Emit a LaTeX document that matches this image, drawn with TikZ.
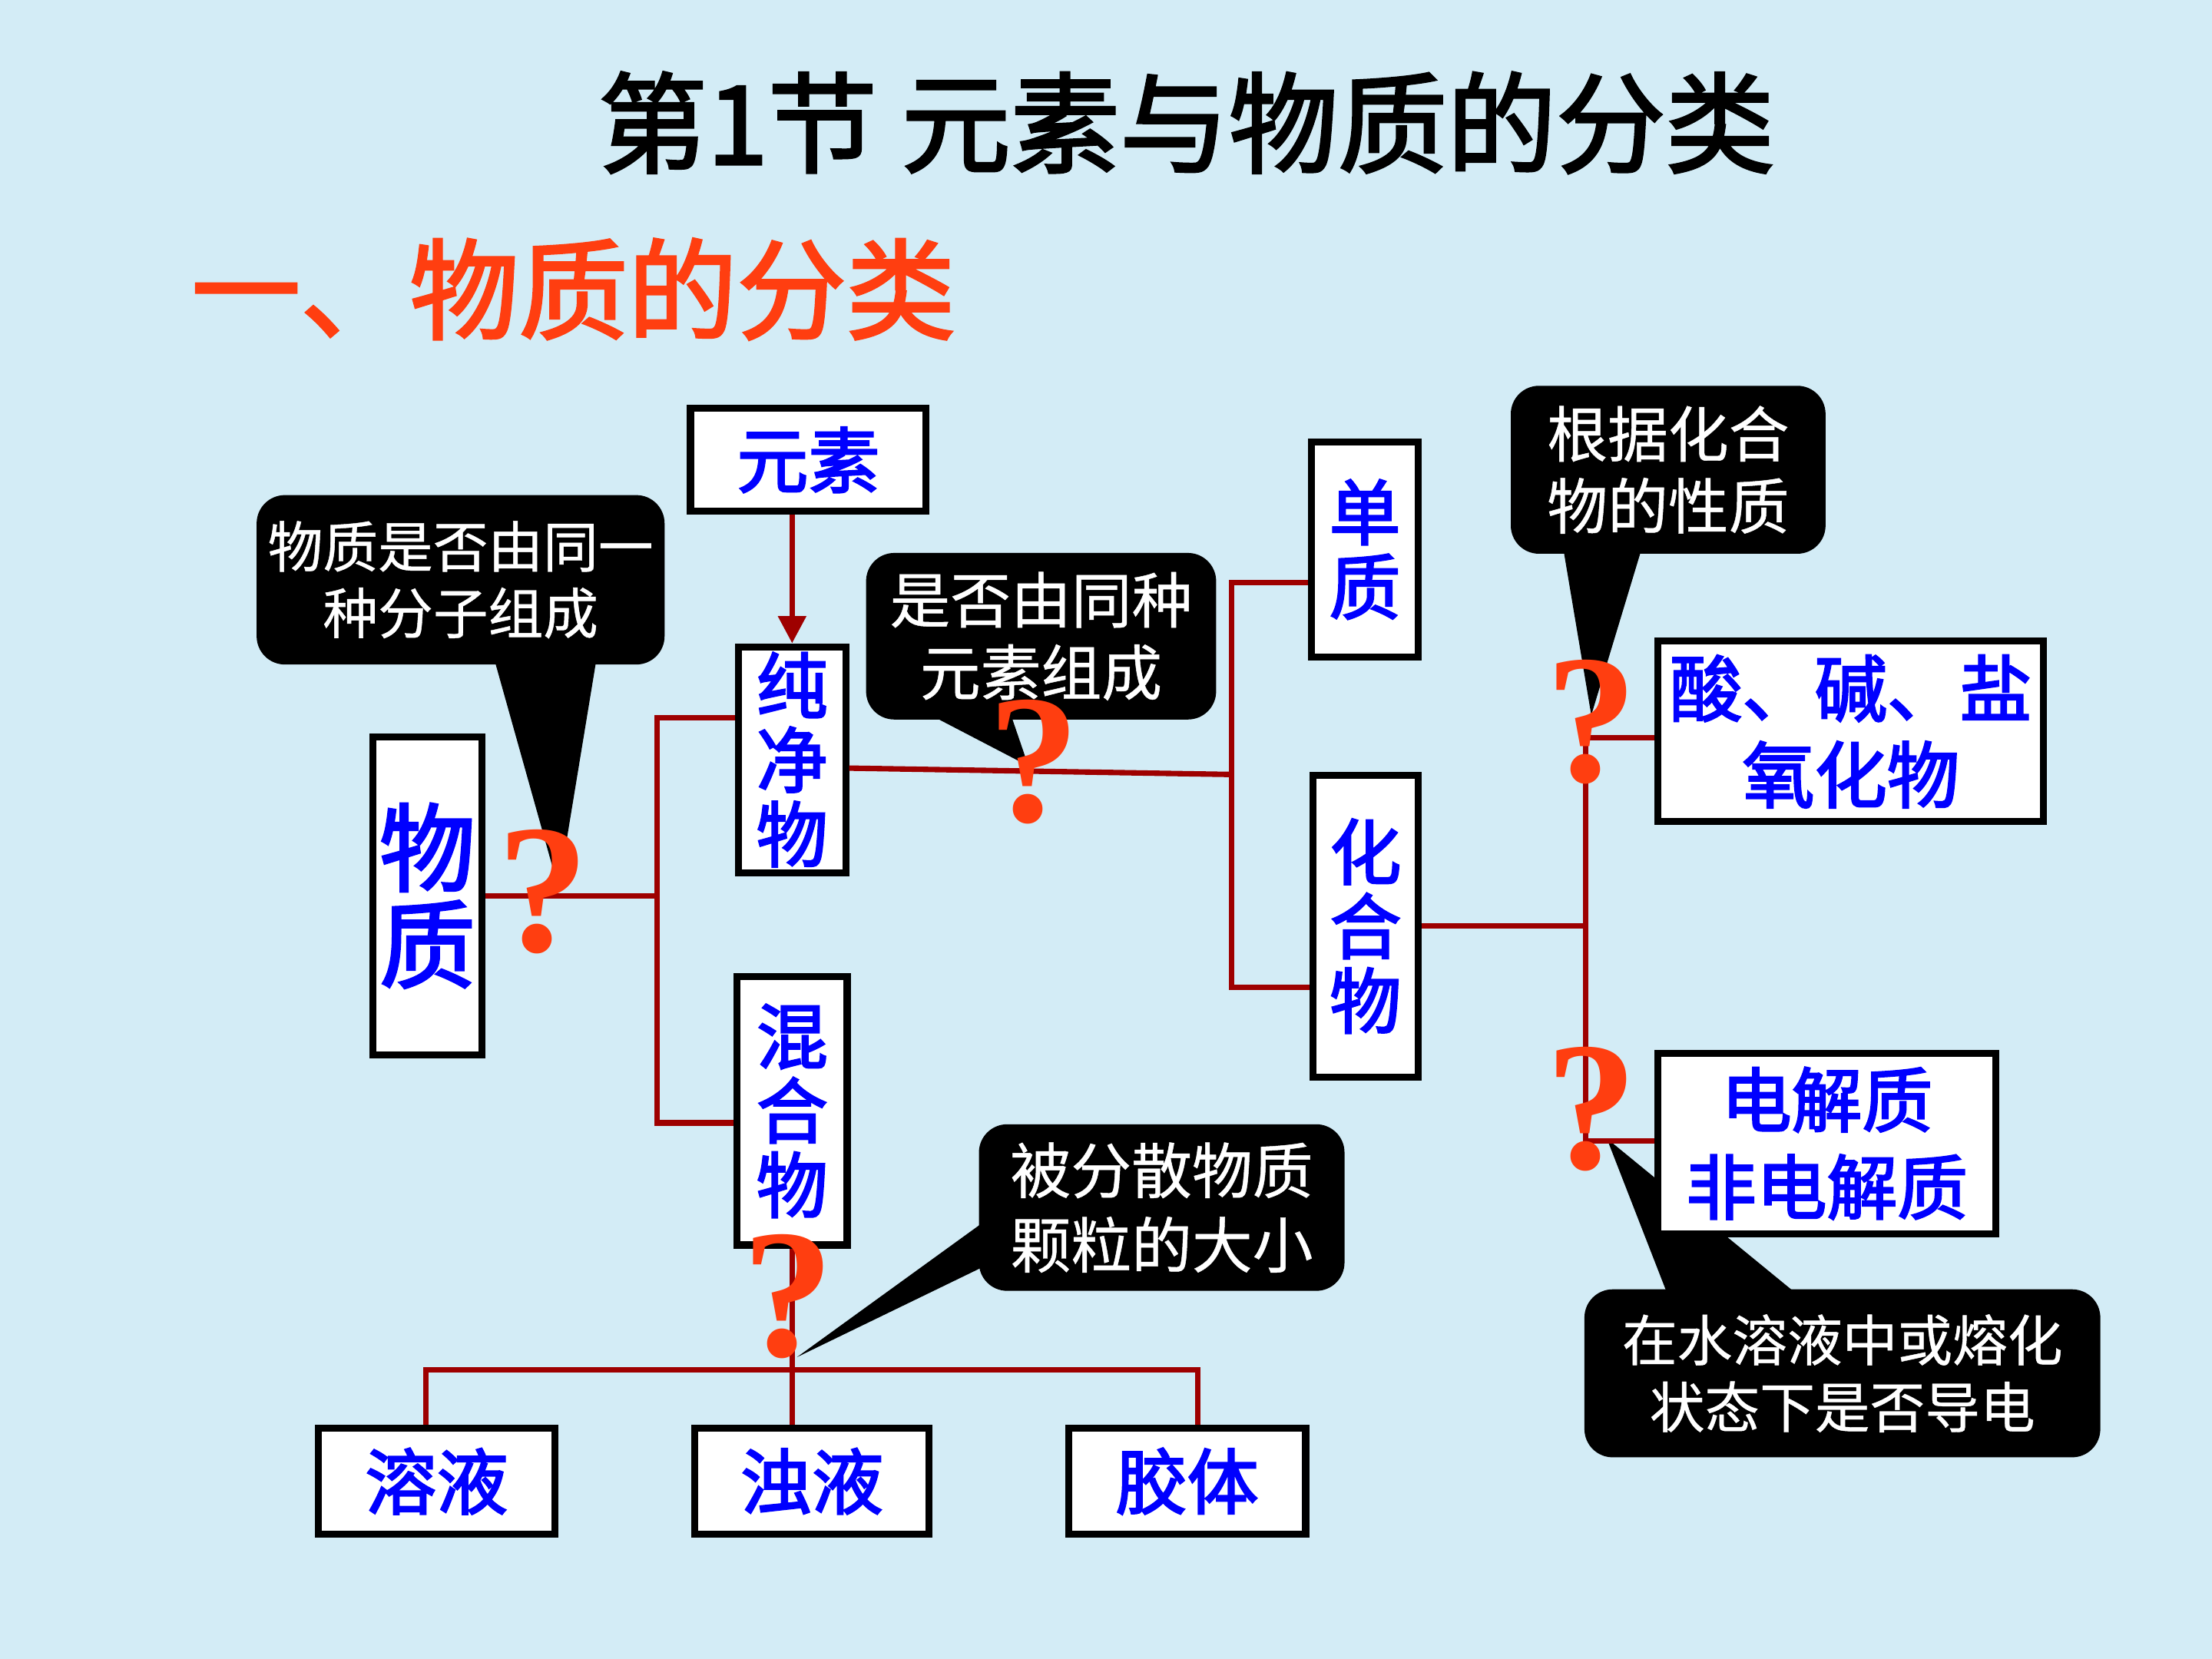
\documentclass[tikz,border=0pt]{standalone}
\usepackage{fontspec}
\newfontfamily\cjk[FakeBold=0.6]{Noto Sans CJK SC}
\newfontfamily\cjkm[FakeBold=2.6]{Noto Sans CJK SC}
\newfontfamily\cjkh[FakeBold=2.4]{Noto Sans CJK SC}
\newfontfamily\qfont{Liberation Serif}
\usetikzlibrary{arrows.meta,calc}
\definecolor{bgblue}{RGB}{211,236,246}
\definecolor{linkred}{RGB}{158,0,0}
\definecolor{qred}{RGB}{255,62,16}
\tikzset{
  box/.style={draw=black, line width=1.4pt, fill=white, inner sep=0pt, text=blue, align=center,
    font=\cjkm\fontsize{14.4pt}{15pt}\selectfont},
  bubble/.style={fill=black, rounded corners=0.2cm, inner sep=0pt, text=white, align=center},
  link/.style={draw=linkred, line width=1.1pt},
  qmark/.style={text=qred, inner sep=0pt, font=\qfont\bfseries\fontsize{37pt}{40pt}\selectfont},
  tailc/.style={fill=black},
  headline/.style={inner sep=0pt, font=\cjkh\fontsize{22pt}{26pt}\selectfont}
}
\begin{document}
\begin{tikzpicture}[x=0.01cm,y=-0.01cm]
\useasboundingbox (0,0) rectangle (1568,1176);
\fill[bgblue] (0,0) rectangle (1568,1176);

% titles
\node[headline] (title) at (841,87) {第1节 元素与物质的分类};
\node[headline, anchor=west, text=qred] (sub) at (135,205) {一、物质的分类};

% tail under the electrolyte box
\fill[tailc] (1183,920) -- (1139,807) -- (1277,920) -- cycle;

% boxes
\node[box, minimum width=1.67cm, minimum height=0.73cm] (yuansu) at (573,326) {元素};
\node[box, minimum width=0.77cm, minimum height=2.25cm,
      font=\cjkm\fontsize{19.3pt}{19.5pt}\selectfont] (wuzhi) at (303,635) {物\\质};
\node[box, minimum width=0.76cm, minimum height=1.60cm] (chun) at (561.5,538.5) {纯\\净\\物};
\node[box, minimum width=0.78cm, minimum height=1.90cm] (hun) at (561.5,787.5) {混\\合\\物};
\node[box, minimum width=0.76cm, minimum height=1.52cm] (danzhi) at (967.5,389.5) {单\\质};
\node[box, minimum width=0.75cm, minimum height=2.14cm] (huahe) at (968,656.5) {化\\合\\物};
\node[box, minimum width=2.73cm, minimum height=1.28cm,
      font=\cjkm\fontsize{14.6pt}{17.4pt}\selectfont] (suan) at (1312,518.5) {酸、碱、盐\\氧化物};
\node[box, minimum width=2.39cm, minimum height=1.28cm,
      font=\cjkm\fontsize{14.2pt}{17.6pt}\selectfont] (dianjie) at (1295,810.5) {电解质\\非电解质};
\node[box, minimum width=1.68cm, minimum height=0.75cm] (rongye) at (309.5,1050) {溶液};
\node[box, minimum width=1.66cm, minimum height=0.75cm] (zhuoye) at (575.5,1050) {浊液};
\node[box, minimum width=1.68cm, minimum height=0.75cm] (jiaoti) at (841.5,1050) {胶体};

% connectors
\coordinate (b1) at (466,509);
\coordinate (b2) at (466,796);
\draw[link] (wuzhi.east) -- (wuzhi.east -| b1);
\draw[link] (b1 -| chun.west) -- (b1) -- (b2) -- (b2 -| hun.west);
\draw[link, -{Triangle[width=5.5pt,length=5.5pt]}] (chun.north |- yuansu.south) -- (chun.north);
\coordinate (b3) at (873,413);
\coordinate (b4) at (873,700);
\coordinate (b5) at (873,549);
\draw[link] ($(chun.east)+(0,6)$) -- (b5);
\draw[link] (b3 -| danzhi.west) -- (b3) -- (b4) -- (b4 -| huahe.west);
\coordinate (b6) at (1124,523);
\coordinate (b7) at (1124,809);
\draw[link] (huahe.east) -- (huahe.east -| b6);
\draw[link] (b6 -| suan.west) -- (b6) -- (b7) -- (b7 -| dianjie.west);
\coordinate (b8) at (302,971);
\coordinate (b9) at (849,971);
\draw[link] (hun.south) -- (hun.south |- zhuoye.north);
\draw[link] (b8 |- rongye.north) -- (b8) -- (b9) -- (b9 |- jiaoti.north);

% callout tails
\fill[tailc] (350,466) -- (396,630) -- (423,466) -- cycle;
\fill[tailc] (656,505) -- (729,543) -- (716,505) -- cycle;
\fill[tailc] (1108,388) -- (1128,507) -- (1164,388) -- cycle;
\fill[tailc] (699,865) -- (565,962) -- (699,897) -- cycle;

% callouts
\node[bubble, minimum width=2.89cm, minimum height=1.20cm,
      font=\cjk\fontsize{11.1pt}{13.4pt}\selectfont] (c1) at (326.5,411) {物质是否由同一\\种分子组成};
\node[bubble, minimum width=2.48cm, minimum height=1.18cm,
      font=\cjk\fontsize{12.2pt}{14.6pt}\selectfont] (c2) at (738,451) {是否由同种\\元素组成};
\node[bubble, minimum width=2.23cm, minimum height=1.19cm,
      font=\cjk\fontsize{12.2pt}{14.5pt}\selectfont] (c3) at (1182.5,333) {根据化合\\物的性质};
\node[bubble, minimum width=2.59cm, minimum height=1.18cm,
      font=\cjk\fontsize{12.2pt}{15pt}\selectfont] (c4) at (823.5,856) {被分散物质\\颗粒的大小};
\node[bubble, minimum width=3.655cm, minimum height=1.19cm,
      font=\cjk\fontsize{11.1pt}{13.5pt}\selectfont] (c5) at (1306,973.5) {在水溶液中或熔化\\状态下是否导电};

% question marks (on top of everything)
\node[qmark] (q1) at (385,632) {?};
\node[qmark] (q2) at (733,540) {?};
\node[qmark] (q3) at (1128,512) {?};
\node[qmark] (q4) at (1128,786) {?};
\node[qmark] (q5) at (559,919) {?};
\end{tikzpicture}
\end{document}
